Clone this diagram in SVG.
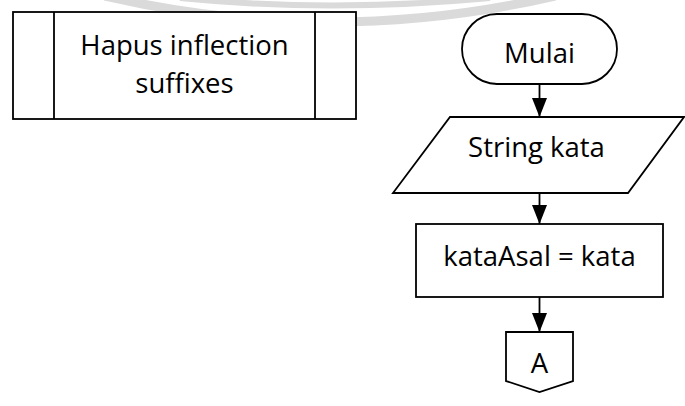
<svg xmlns="http://www.w3.org/2000/svg" width="685" height="406" viewBox="0 0 685 406">
  <style>
    .shape { fill: #ffffff; stroke: #000000; stroke-width: 1.8; stroke-linejoin: miter; }
    .line { fill: none; stroke: #000000; stroke-width: 1.8; }
    .label { font-family: "Open Sans", "Liberation Sans", sans-serif; font-size: 27.5px; fill: #000000; text-anchor: middle; }
    .mark { fill: none; stroke: #dadada; stroke-linecap: butt; }
  </style>
  <defs>
    <marker id="arrow" markerUnits="userSpaceOnUse" markerWidth="19" markerHeight="16" refX="19" refY="7.5" orient="auto">
      <path d="M0,0 L19,7.5 L0,15 Z" fill="#000000"/>
    </marker>
  </defs>

  <rect width="685" height="406" fill="#ffffff"/>

  <!-- faint background arcs -->
  <path class="mark" d="M105,-4 Q330,48 555,-4" stroke-width="9"/>
  <path class="mark" d="M180,-2 Q330,13 490,-2" stroke-width="6"/>

  <!-- predefined process -->
  <g id="hapus-inflection">
    <rect class="shape" x="13" y="12" width="343" height="107"/>
    <line class="line" x1="54" y1="12" x2="54" y2="119"/>
    <line class="line" x1="315" y1="12" x2="315" y2="119"/>
    <text class="label" x="184.5" y="55">Hapus inflection</text>
    <text class="label" x="184.5" y="93">suffixes</text>
  </g>

  <g id="mulai">
    <rect class="shape" x="462" y="14" width="155" height="70" rx="35" ry="35"/>
    <text class="label" x="539.5" y="63">Mulai</text>
  </g>

  <g id="string-kata">
    <polygon class="shape" points="450,117 684,117 628,193 393,193"/>
    <text class="label" x="536.5" y="157">String kata</text>
  </g>

  <g id="kata-asal">
    <rect class="shape" x="416" y="224" width="247" height="73"/>
    <text class="label" x="539.5" y="266">kataAsal = kata</text>
  </g>

  <g id="connector-a">
    <polygon class="shape" points="506,332 573,332 573,381 539.5,392 506,381"/>
    <text class="label" x="539.5" y="373">A</text>
  </g>

  <g id="connectors">
    <line class="line" x1="539.5" y1="84" x2="539.5" y2="117" marker-end="url(#arrow)"/>
    <line class="line" x1="539.5" y1="193" x2="539.5" y2="224" marker-end="url(#arrow)"/>
    <line class="line" x1="539.5" y1="297" x2="539.5" y2="332" marker-end="url(#arrow)"/>
  </g>
</svg>
